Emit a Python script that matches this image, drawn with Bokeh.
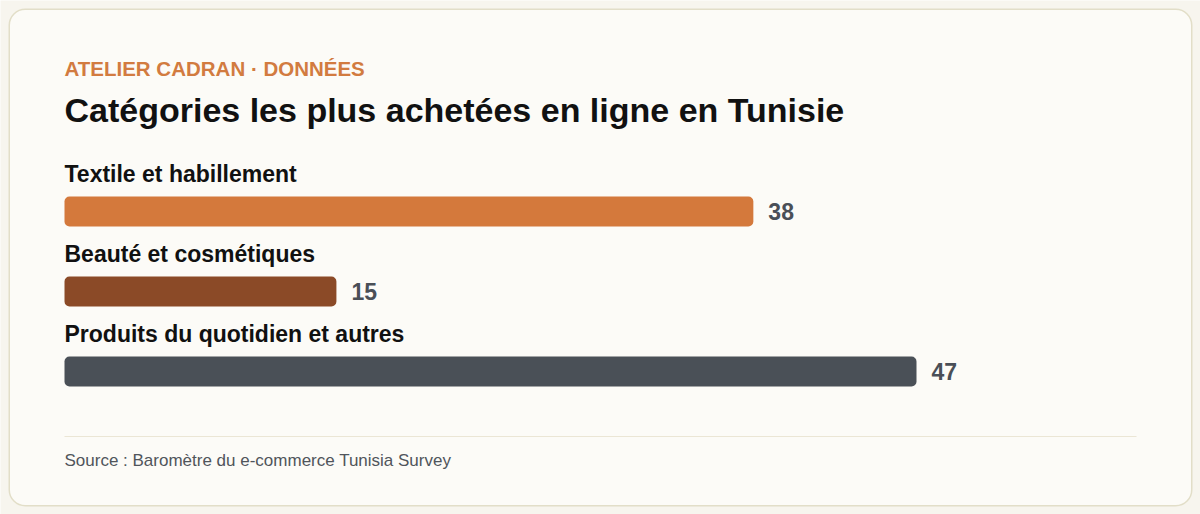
from bokeh.plotting import figure
from bokeh.models import Range1d
from bokeh.core.properties import value
from bokeh.embed import file_html
from bokeh.resources import INLINE

categories = ["Textile et habillement", "Beauté et cosmétiques", "Produits du quotidien et autres"]
shares = [38, 15, 47]
colors = ["#d4793c", "#8b4a27", "#4a5057"]

eyebrow = "ATELIER CADRAN · DONNÉES"
title = "Catégories les plus achetées en ligne en Tunisie"
source = "Source : Baromètre du e-commerce Tunisia Survey"

W, H = 1200, 514
PAD = 64          # where the bars start, px
PX = 852 / 47     # px per unit of share
FONT = value("Liberation Sans")
BG = "#f7f5ee"


def px(x):
    # page pixel -> data x
    return (x - PAD) / PX


p = figure(width=W, height=H, output_backend="svg", toolbar_location=None,
           x_range=Range1d(px(0), px(W)), y_range=Range1d(H, 0),
           min_border=0, min_border_left=0, min_border_right=0,
           min_border_top=0, min_border_bottom=0)
p.axis.visible = False
p.grid.visible = False
p.outline_line_color = None
p.background_fill_color = BG
p.border_fill_color = BG

# card
p.quad(left=px(8.75), right=px(W - 8.75), top=8.75, bottom=H - 8.75, border_radius=16,
       fill_color="#fcfbf7", line_color="#e2dec8", line_width=1.5)

# header (svg text sits a bit low, hence the y values)
p.text(x=[0], y=[68], text=[eyebrow], text_font=FONT, text_font_size="20.5px",
       text_font_style="bold", text_color="#d27b40", text_baseline="alphabetic")
p.text(x=[0], y=[109], text=[title], text_font=FONT, text_font_size="34px",
       text_font_style="bold", text_color="#111111", text_baseline="alphabetic")

# bars
centers = [211 + 80 * i for i in range(len(categories))]
p.hbar(y=centers, left=0, right=shares, height=30, fill_color=colors,
       line_color=None, border_radius=5)
p.text(x=[0] * len(categories), y=[c - 38 for c in centers], text=categories,
       text_font=FONT, text_font_size="23px", text_font_style="bold",
       text_color="#111111", text_baseline="alphabetic")
p.text(x=shares, y=[c for c in centers], text=[str(s) for s in shares],
       x_offset=15, text_font=FONT, text_font_size="23px", text_font_style="bold",
       text_color="#4a4f57", text_baseline="alphabetic")

# footer
p.segment(x0=[0], x1=[px(W - PAD)], y0=[436], y1=[436], line_color="#ebe6d5", line_width=1.2)
p.text(x=[0], y=[459.5], text=[source], text_font=FONT, text_font_size="17px",
       text_color="#50555b", text_baseline="alphabetic")

html = file_html(p, INLINE)
html = html.replace("<body>", '<body style="background:%s;margin:0">' % BG, 1)
open("out.html", "w").write(html)
